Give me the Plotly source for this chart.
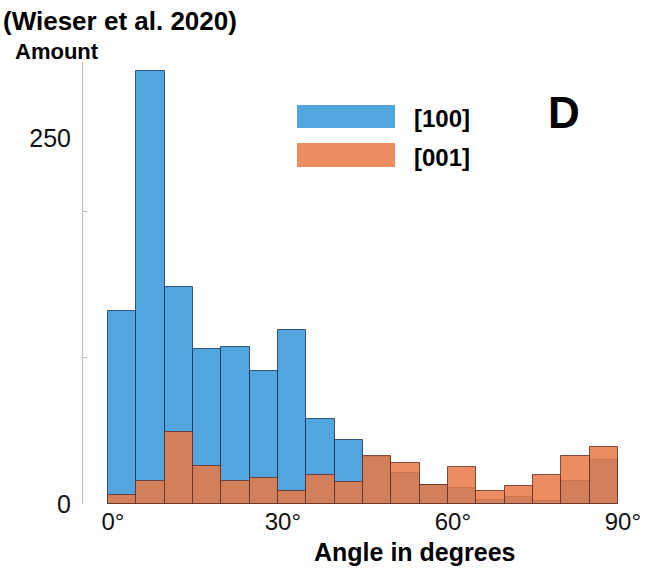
import plotly.graph_objects as go

# ---- data ----
bin_edges = [0, 5, 10, 15, 20, 25, 30, 35, 40, 45, 50, 55, 60, 65, 70, 75, 80, 85, 90]
counts_100 = [132, 296, 148, 106, 107, 91, 119, 58, 44, 32, 21, 13, 11, 3, 5, 2, 16, 30]
counts_001 = [6, 16, 49, 26, 16, 18, 9, 20, 15, 33, 28, 13, 25, 9, 12, 20, 33, 39]
x_tickvals = [0, 30, 60, 90]
x_ticktext = ["0°", "30°", "60°", "90°"]
y_tickvals = [0, 250]
y_minor_ticks = [100, 200]

centers = [(a + b) / 2 for a, b in zip(bin_edges[:-1], bin_edges[1:])]
widths = [b - a for a, b in zip(bin_edges[:-1], bin_edges[1:])]

# ---- layout geometry (pixels) ----
W, H = 662, 570
L, R, T, B = 83, 632, 62, 504
PW, PH = R - L, B - T

def px(x):
    return (x - L) / PW

def py(y):
    return (B - y) / PH

FONT = "Liberation Sans, Arial, Helvetica, sans-serif"
BLUE_FILL = "rgba(45,145,215,0.82)"
BLUE_EDGE = "rgba(25,50,90,0.8)"
ORANGE_FILL = "rgba(232,122,70,0.86)"
ORANGE_EDGE = "rgba(100,45,35,0.8)"

fig = go.Figure()
fig.add_trace(go.Bar(x=centers, y=counts_100, width=widths, name="[100]",
                     marker=dict(color=BLUE_FILL, line=dict(color=BLUE_EDGE, width=1))))
fig.add_trace(go.Bar(x=centers, y=counts_001, width=widths, name="[001]",
                     marker=dict(color=ORANGE_FILL, line=dict(color=ORANGE_EDGE, width=1))))

shapes = [
    dict(type="rect", xref="paper", yref="paper", x0=px(297), x1=px(395), y0=py(128), y1=py(105),
         fillcolor=BLUE_FILL, line=dict(width=0)),
    dict(type="rect", xref="paper", yref="paper", x0=px(297), x1=px(395), y0=py(167), y1=py(143),
         fillcolor=ORANGE_FILL, line=dict(width=0)),
]

def ann(text, x, y, size, xanchor="left"):
    return dict(text=text, xref="paper", yref="paper", x=px(x), y=py(y), xanchor=xanchor,
                yanchor="middle", showarrow=False, font=dict(family=FONT, size=size, color="black"))

annotations = [
    ann("<b>(Wieser et al. 2020)</b>", 1, 21, 26),
    ann("<b>Amount</b>", 13, 51, 22),
    ann("<b>D</b>", 564, 112, 44, "center"),
    ann("<b>[100]</b>", 412, 118, 24),
    ann("<b>[001]</b>", 412, 157, 24),
    ann("<b>Angle in degrees</b>", 414, 552, 25, "center"),
]

fig.update_layout(
    width=W, height=H,
    margin=dict(l=L, r=W - R, t=T, b=H - B, pad=0),
    barmode="overlay", bargap=0,
    showlegend=False,
    plot_bgcolor="white", paper_bgcolor="white",
    font=dict(family=FONT, size=25, color="black"),
    shapes=shapes, annotations=annotations,
    xaxis=dict(range=[-4.4, 92.5], tickvals=x_tickvals, ticktext=x_ticktext,
               showgrid=False, zeroline=False, showline=False, ticks="",
               ticklabelshift=5, ticklabelstandoff=1,
               tickfont=dict(family=FONT, size=24, color="#111")),
    yaxis=dict(range=[0, 302], tickvals=y_tickvals, showgrid=False, zeroline=False,
               showline=True, linecolor="#bdbdbd", linewidth=1, ticks="",
               ticklabelstandoff=6,
               minor=dict(tickvals=y_minor_ticks, ticks="inside", ticklen=4, tickcolor="#bdbdbd"),
               tickfont=dict(family=FONT, size=25, color="#111")),
)

fig.write_html("out.html")
